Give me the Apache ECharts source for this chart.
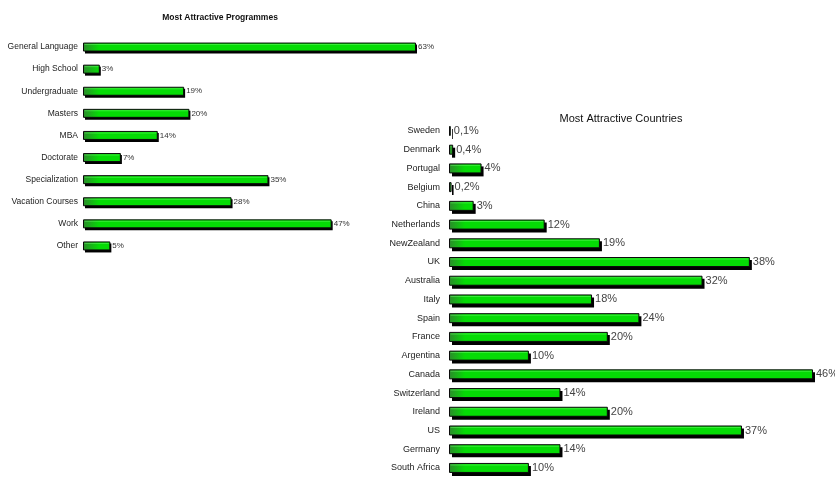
<!DOCTYPE html>
<html>
<head>
<meta charset="utf-8">
<script src="https://cdn.jsdelivr.net/npm/echarts@6/dist/echarts.min.js"></script>
<style>
  html, body { margin: 0; padding: 0; background: #ffffff; }
  #chart { width: 835px; height: 480px; }
</style>
</head>
<body>
<div id="chart"></div>
<script>
// Programmes (percent of respondents)
const programmeNames = ['General Language', 'High School', 'Undergraduate', 'Masters', 'MBA',
  'Doctorate', 'Specialization', 'Vacation Courses', 'Work', 'Other'];
const programmeValues = [63, 3, 19, 20, 14, 7, 35, 28, 47, 5];

// Countries (percent of respondents)
const countryNames = ['Sweden', 'Denmark', 'Portugal', 'Belgium', 'China', 'Netherlands', 'NewZealand',
  'UK', 'Australia', 'Italy', 'Spain', 'France', 'Argentina', 'Canada', 'Switzerland', 'Ireland',
  'US', 'Germany', 'South Africa'];
const countryValues = [0.1, 0.4, 4, 0.2, 3, 12, 19, 38, 32, 18, 24, 20, 10, 46, 14, 20, 37, 14, 10];

const sans = '"Liberation Sans", Arial, sans-serif';

const pct = v => String(v).replace('.', ',') + '%';

// Bar with a hard black drop shadow, drawn on the axis scales.
function shadowBar(thickness, offset, labelFont, labelColor) {
  return function (params, api) {
    const v = api.value(0);
    const c = api.value(1);
    const p0 = api.coord([0, c]);
    const p1 = api.coord([v, c]);
    const w = Math.max(p1[0] - p0[0], 0.6);
    const y = p0[1] - thickness / 2;
    // darker green at the base of the bar fading into bright green
    const fill = new echarts.graphic.LinearGradient(p0[0], 0, p0[0] + 16, 0, [
      { offset: 0, color: '#2c8a2c' },
      { offset: 1, color: '#05dc05' }
    ], true);
    return {
      type: 'group',
      children: [
        {
          type: 'rect',
          shape: { x: p0[0] + offset, y: y + offset, width: w, height: thickness },
          style: { fill: '#000000' }
        },
        {
          type: 'rect',
          shape: { x: p0[0] + 0.5, y: y + 0.5, width: w, height: thickness - 1 },
          style: { fill: fill, stroke: '#0a0a0a', lineWidth: 1 }
        },
        {
          type: 'rect',
          shape: { x: p0[0] + 1.5, y: y + 1.5, width: Math.max(w - 2, 0), height: 1 },
          style: { fill: 'rgba(120,255,120,0.45)' }
        },
        {
          type: 'text',
          x: p0[0] + w + offset + 1,
          y: p0[1],
          style: {
            text: pct(v), font: labelFont, fill: labelColor,
            verticalAlign: 'middle', align: 'left'
          }
        }
      ]
    };
  };
}

const chart = echarts.init(document.getElementById('chart'));
chart.setOption({
  animation: false,
  backgroundColor: '#ffffff',
  title: [
    {
      text: 'Most Attractive Programmes',
      left: 215, top: 8, textAlign: 'center',
      textStyle: { fontFamily: sans, fontSize: 8.5, fontWeight: 'bold', color: '#111111' }
    },
    {
      text: 'Most Attractive Countries',
      left: 616, top: 108, textAlign: 'center',
      textStyle: { fontFamily: sans, fontSize: 11, fontWeight: 'normal', color: '#111111' }
    }
  ],
  grid: [
    { left: 83, top: 36, width: 332, height: 221 },
    { left: 449, top: 121.6, width: 363, height: 355.7 }
  ],
  xAxis: [
    { gridIndex: 0, type: 'value', min: 0, max: 63, show: false },
    { gridIndex: 1, type: 'value', min: 0, max: 46, show: false }
  ],
  yAxis: [
    {
      gridIndex: 0, type: 'category', data: programmeNames, inverse: true,
      axisLine: { show: false }, axisTick: { show: false }, splitLine: { show: false },
      axisLabel: { margin: 5, fontFamily: sans, fontSize: 8.5, color: '#222222' }
    },
    {
      gridIndex: 1, type: 'category', data: countryNames, inverse: true,
      axisLine: { show: false }, axisTick: { show: false }, splitLine: { show: false },
      axisLabel: { margin: 9, fontFamily: sans, fontSize: 9, color: '#222222' }
    }
  ],
  series: [
    {
      type: 'custom', xAxisIndex: 0, yAxisIndex: 0,
      data: programmeValues.map((v, i) => [v, i]),
      encode: { x: 0, y: 1 },
      renderItem: shadowBar(9, 2, '8px ' + sans, '#333333')
    },
    {
      type: 'custom', xAxisIndex: 1, yAxisIndex: 1,
      data: countryValues.map((v, i) => [v, i]),
      encode: { x: 0, y: 1 },
      renderItem: shadowBar(10, 3, '11px ' + sans, '#444444')
    }
  ]
});
</script>
</body>
</html>
